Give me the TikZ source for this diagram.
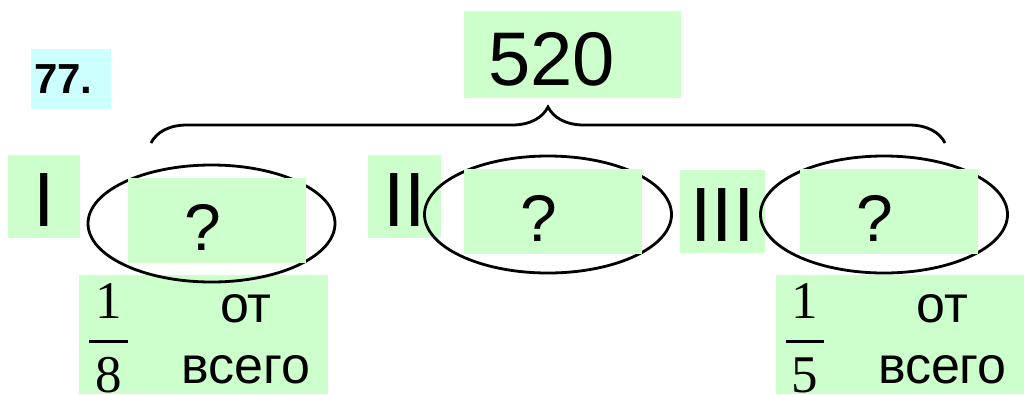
\documentclass[tikz,border=0pt]{standalone}
\usepackage{fontspec}
\usetikzlibrary{shapes.geometric,decorations.pathreplacing}
\newfontfamily\arialfont{Liberation Sans}
\newfontfamily\timesfont{Liberation Serif}
\definecolor{boxgreen}{RGB}{204,255,204}
\definecolor{boxcyan}{RGB}{204,255,255}
\setlength{\arrayrulewidth}{2.6pt}
\newcommand{\partfrac}[2]{{\timesfont\fontsize{53}{72}\selectfont
  \begin{tabular}{@{\hspace{6pt}}c@{\hspace{6pt}}}#1\\\hline #2\end{tabular}}}

\tikzset{
  greenbox/.style={fill=boxgreen, inner sep=0pt},
  romanbox/.style={greenbox, font=\arialfont\fontsize{77}{80}\selectfont,
    text height=60pt, text depth=0pt},
  partoval/.style={ellipse, draw, line width=2.8pt, inner sep=0pt,
    minimum width=247pt, minimum height=117pt},
  qbox/.style={greenbox, font=\arialfont\fontsize{66}{70}\selectfont,
    align=left, inner xsep=56pt, text width=66pt, minimum height=85pt,
    text height=59pt, text depth=0pt},
  fracbox/.style={greenbox, font=\arialfont\fontsize{52}{61}\selectfont,
    align=left, inner xsep=10pt, text width=229pt, minimum height=119pt,
    text height=72pt, text depth=46pt},
}

\begin{document}
\begin{tikzpicture}[x=1pt,y=-1pt]
    \useasboundingbox (0,0) rectangle (1024,394);

    % Task number
    \node[fill=boxcyan, inner ysep=0pt, inner xsep=3pt, text width=74pt, align=left,
      minimum height=60pt, text height=28pt, text depth=0pt,
      font=\arialfont\bfseries\fontsize{42}{46}\selectfont] (num) at (71,79) {77.};

    % Total
    \node[greenbox, inner xsep=24pt, text width=169pt, align=left,
      minimum height=87pt, text height=61pt, text depth=0pt,
      font=\arialfont\fontsize{76}{80}\selectfont] (total) at (572.5,54.5) {520};

    % Part labels
    \node[romanbox, minimum width=72pt, minimum height=83pt] (r1) at (44,196.5) {I};
    \node[romanbox, minimum width=73pt, minimum height=83pt] (r2) at (404.5,196.5) {II};
    \node[romanbox, minimum width=85pt, minimum height=83pt] (r3) at (722.5,211.5) {III};

    % Given fractions
    \node[fracbox] (f1) at (203.5,334.5)
      {\partfrac{1}{8}\hspace{54pt}\begin{tabular}{@{}c@{}}от\\всего\end{tabular}};
    \node[fracbox] (f3) at (900,334.5)
      {\partfrac{1}{5}\hspace{54pt}\begin{tabular}{@{}c@{}}от\\всего\end{tabular}};

    % Parts
    \node[partoval] (e1) at (211.5,223.5) {};
    \node[partoval] (e2) at (548,214.5) {};
    \node[partoval] (e3) at (884,214.5) {};

    \node[qbox] (q1) at (217,220.5) {?};
    \node[qbox] (q2) at (553,211.5) {?};
    \node[qbox] (q3) at (889,211.5) {?};

    % Brace over all parts
    \coordinate (bl) at (151,143);
    \coordinate (br) at (945,143);
    \draw[line width=2.8pt, decorate, decoration={brace, amplitude=36pt}] (bl) -- (br);
\end{tikzpicture}
\end{document}
